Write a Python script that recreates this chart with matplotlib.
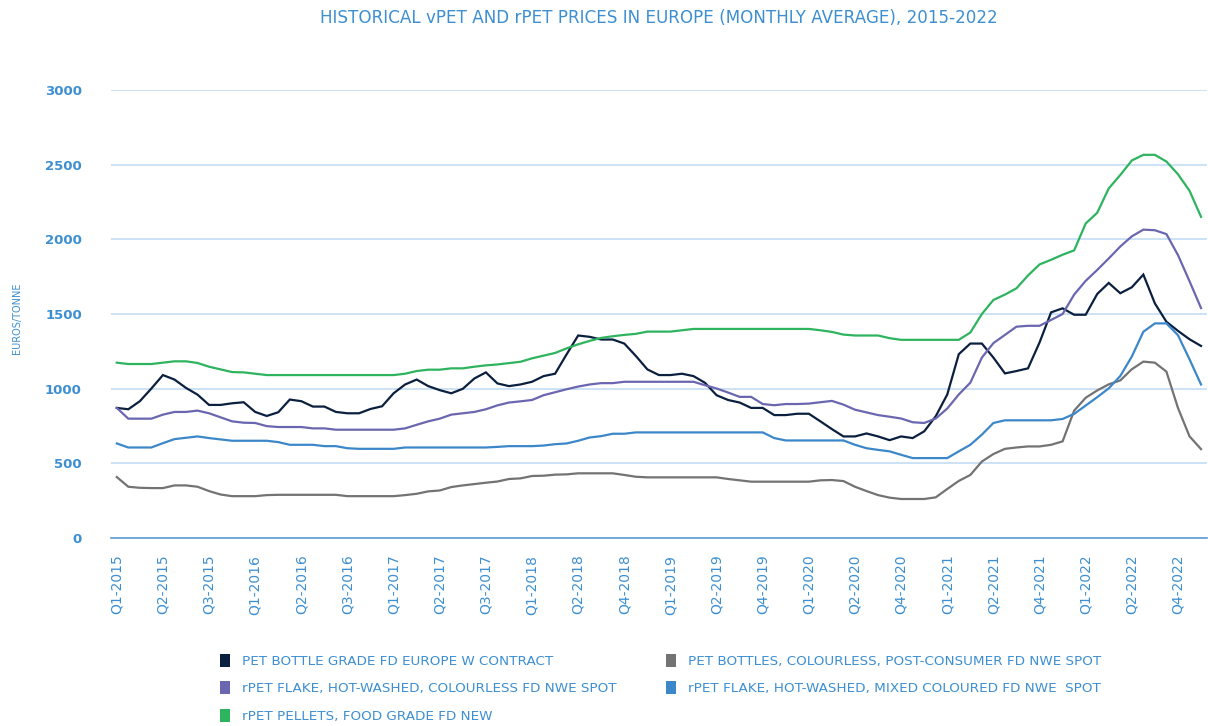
import matplotlib.pyplot as plt
from matplotlib.patches import Patch
import pandas as pd

# ─── DATA (EUR/tonne, monthly, Jan 2015 – Nov 2022) ────────────────────────────
months = pd.date_range("2015-01-01", periods=95, freq="MS")

pet_bottle_grade = [
    871, 862, 916, 1001, 1091, 1061, 1005, 960, 891, 891, 902, 909,
    844, 817, 842, 927, 916, 880, 880, 844, 835, 835, 864, 882,
    969, 1028, 1061, 1017, 990, 969, 999, 1068, 1109, 1035, 1017, 1028,
    1046, 1084, 1100, 1230, 1356, 1347, 1329, 1329, 1302, 1219, 1129, 1091,
    1091, 1100, 1084, 1039, 956, 924, 907, 871, 871, 823, 823, 832,
    832, 781, 729, 680, 680, 700, 680, 655, 680, 669, 714, 815,
    961, 1231, 1302, 1302, 1208, 1102, 1118, 1136, 1309, 1511, 1538, 1495,
    1495, 1634, 1708, 1639, 1679, 1764, 1571, 1448, 1387, 1331, 1286,
]
flake_colourless = [
    871, 799, 799, 799, 826, 844, 844, 853, 835, 808, 781, 772,
    770, 749, 743, 743, 743, 734, 734, 725, 725, 725, 725, 725,
    725, 734, 758, 781, 799, 826, 835, 844, 862, 888, 907, 915,
    924, 956, 976, 996, 1014, 1028, 1037, 1037, 1046, 1046, 1046, 1046,
    1046, 1046, 1046, 1023, 1001, 974, 945, 945, 897, 889, 897, 897,
    900, 909, 918, 893, 859, 841, 823, 812, 800, 775, 770, 800,
    867, 961, 1040, 1208, 1305, 1360, 1415, 1421, 1421, 1460, 1500, 1630,
    1722, 1795, 1872, 1952, 2020, 2065, 2061, 2035, 1895, 1720, 1540,
]
pellets_food = [
    1174, 1165, 1165, 1165, 1174, 1183, 1183, 1172, 1147, 1129, 1111, 1109,
    1100, 1091, 1091, 1091, 1091, 1091, 1091, 1091, 1091, 1091, 1091, 1091,
    1091, 1100, 1118, 1127, 1127, 1136, 1136, 1147, 1156, 1162, 1171, 1180,
    1203, 1221, 1239, 1270, 1297, 1320, 1340, 1351, 1360, 1367, 1382, 1382,
    1382, 1391, 1400, 1400, 1400, 1400, 1400, 1400, 1400, 1400, 1400, 1400,
    1400, 1391, 1380, 1362, 1356, 1356, 1356, 1338, 1327, 1327, 1327, 1327,
    1327, 1327, 1376, 1500, 1594, 1630, 1672, 1758, 1832, 1863, 1897, 1926,
    2106, 2178, 2341, 2431, 2528, 2566, 2566, 2521, 2436, 2326, 2151,
]
bottles_colourless = [
    408, 343, 336, 334, 334, 352, 352, 343, 314, 291, 280, 280,
    280, 287, 289, 289, 289, 289, 289, 289, 280, 280, 280, 280,
    280, 287, 296, 312, 318, 341, 352, 361, 370, 378, 395, 399,
    415, 417, 424, 426, 433, 433, 433, 433, 422, 410, 406, 406,
    406, 406, 406, 406, 406, 395, 386, 377, 377, 377, 377, 377,
    377, 386, 388, 381, 343, 314, 287, 270, 261, 261, 261, 272,
    328, 382, 422, 512, 562, 597, 606, 613, 613, 624, 647, 853,
    939, 988, 1029, 1055, 1130, 1181, 1174, 1114, 871, 681, 595,
]
flake_mixed = [
    633, 606, 606, 606, 635, 662, 671, 680, 669, 660, 651, 651,
    651, 651, 642, 624, 624, 624, 615, 615, 601, 597, 597, 597,
    597, 606, 606, 606, 606, 606, 606, 606, 606, 610, 615, 615,
    615, 619, 628, 633, 651, 673, 682, 698, 698, 707, 707, 707,
    707, 707, 707, 707, 707, 707, 707, 707, 707, 669, 653, 653,
    653, 653, 653, 653, 624, 601, 590, 580, 557, 535, 535, 535,
    535, 580, 624, 692, 770, 788, 788, 788, 788, 788, 797, 831,
    887, 943, 1002, 1085, 1215, 1381, 1437, 1437, 1358, 1197, 1028,
]

tick_labels = [
    "Q1-2015", "Q2-2015", "Q3-2015", "Q1-2016", "Q2-2016", "Q3-2016",
    "Q1-2017", "Q2-2017", "Q3-2017", "Q1-2018", "Q2-2018", "Q4-2018",
    "Q1-2019", "Q2-2019", "Q4-2019", "Q1-2020", "Q2-2020", "Q4-2020",
    "Q1-2021", "Q2-2021", "Q4-2021", "Q1-2022", "Q2-2022", "Q4-2022",
]

series = [
    ("PET BOTTLE GRADE FD EUROPE W CONTRACT", pet_bottle_grade, "#0b1f3f"),
    ("rPET FLAKE, HOT-WASHED, COLOURLESS FD NWE SPOT", flake_colourless, "#6a67b0"),
    ("rPET PELLETS, FOOD GRADE FD NEW", pellets_food, "#2eb35e"),
    ("PET BOTTLES, COLOURLESS, POST-CONSUMER FD NWE SPOT", bottles_colourless, "#737373"),
    ("rPET FLAKE, HOT-WASHED, MIXED COLOURED FD NWE  SPOT", flake_mixed, "#3c87c9"),
]

TXT = "#3d8fd1"
FONT = ["Liberation Sans Narrow", "DejaVu Sans"]

# ─── PLOT ─────────────────────────────────────────────────────────────────────
fig = plt.figure(figsize=(12.08, 7.26), dpi=100)
ax = fig.add_axes([0.0919, 0.259, 0.9071, 0.617])

x = list(range(len(months)))
for name, vals, col in series:
    ax.plot(x, vals, color=col, lw=1.6, solid_joinstyle="miter")

ax.set_xlim(-0.5, len(months) - 0.5)
ax.set_ylim(0, 3000)
ax.set_yticks(range(0, 3001, 500))
ax.set_xticks(x[::4])
ax.set_xticklabels(tick_labels, rotation=90, color=TXT, fontsize=10)
ax.tick_params(axis="x", length=0, pad=12)
ax.tick_params(axis="y", length=0, pad=21, labelcolor=TXT, labelsize=9.5)
for lab in ax.get_yticklabels():
    lab.set_fontweight("bold")

ax.grid(axis="y", color="#c3def3", lw=1.2)
ax.set_axisbelow(True)
for s in ("top", "right", "left"):
    ax.spines[s].set_visible(False)
ax.spines["bottom"].set_color("#5b9bd5")
ax.spines["bottom"].set_linewidth(1.2)

fig.text(0.014, 0.562, "EUROS/TONNE", rotation=90, ha="center", va="center",
         color=TXT, fontsize=7)
fig.text(0.545, 0.975, "HISTORICAL vPET AND rPET PRICES IN EUROPE (MONTHLY AVERAGE), 2015-2022",
         ha="center", va="center", color=TXT, fontsize=12.1, family=FONT)

# legend in two columns
def make_legend(items, x0):
    handles = [Patch(facecolor=c, edgecolor="none", label=n) for n, _, c in items]
    leg = fig.legend(handles=handles, loc="upper left", bbox_to_anchor=(x0, 0.116),
                     frameon=False, handlelength=0.75, handleheight=1.1,
                     handletextpad=0.9, labelspacing=1.0,
                     prop={"family": FONT, "size": 9.7})
    for t in leg.get_texts():
        t.set_color(TXT)
    return leg

make_legend(series[:3], 0.172)
make_legend(series[3:], 0.541)

fig.savefig("out.png", dpi=100)
